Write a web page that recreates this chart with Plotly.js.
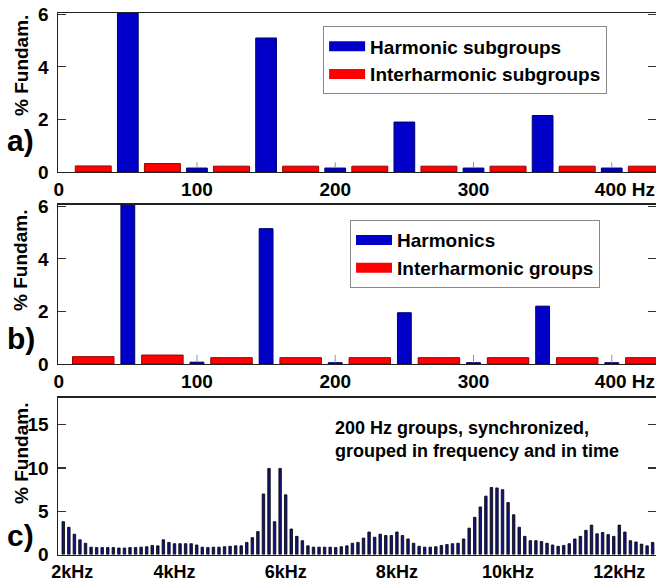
<!DOCTYPE html>
<html>
<head>
<meta charset="utf-8">
<script src="https://cdn.plot.ly/plotly-3.0.1.min.js"></script>
<style>html,body{margin:0;padding:0;background:#fff;}#chart{width:656px;height:581px;}</style>
</head>
<body>
<div id="chart"></div>
<script>
// ---- Panel a) ----
const harmFreq = [50, 100, 150, 200, 250, 300, 350, 400];
const harmSubgroups = [6.5, 0.15, 5.1, 0.15, 1.9, 0.15, 2.15, 0.15];
const harmSubgroupsErr = [0, 0.22, 0, 0.22, 0, 0.22, 0, 0.22];
const interFreq = [25, 75, 125, 175, 225, 275, 325, 375, 425];
const interSubgroups = [0.23, 0.32, 0.22, 0.22, 0.22, 0.22, 0.22, 0.22, 0.22];

// ---- Panel b) ----
const harmonics = [6.5, 0.07, 5.15, 0.05, 1.95, 0.05, 2.2, 0.05];
const harmonicsErr = [0, 0.28, 0, 0.3, 0, 0.3, 0, 0.3];
const interGroups = [0.28, 0.34, 0.24, 0.24, 0.24, 0.24, 0.24, 0.24, 0.24];

// ---- Panel c) 200 Hz groups ----
const cFreq = [2000,2100,2200,2300,2400,2500,2600,2700,2800,2900,
  3000,3100,3200,3300,3400,3500,3600,3700,3800,3900,
  4000,4100,4200,4300,4400,4500,4600,4700,4800,4900,
  5000,5100,5200,5300,5400,5500,5600,5700,5800,5900,
  6000,6100,6200,6300,6400,6500,6600,6700,6800,6900,
  7000,7100,7200,7300,7400,7500,7600,7700,7800,7900,
  8000,8100,8200,8300,8400,8500,8600,8700,8800,8900,
  9000,9100,9200,9300,9400,9500,9600,9700,9800,9900,
  10000,10100,10200,10300,10400,10500,10600,10700,10800,10900,
  11000,11100,11200,11300,11400,11500,11600,11700,11800,11900,
  12000,12100,12200,12300,12400,12500,12600];
const cValues = [3.8,3.15,2.35,1.7,1.3,0.85,0.8,0.8,0.8,0.8,
  0.75,0.75,0.8,0.8,0.85,0.9,1.05,1.0,1.7,1.4,
  1.25,1.25,1.25,1.25,1.1,0.85,0.8,0.85,0.85,0.9,
  0.95,1.0,1.0,1.4,1.95,2.65,7.0,9.95,3.8,9.95,
  6.9,2.95,2.1,1.6,1.0,0.85,0.85,0.85,0.85,0.8,
  0.9,1.0,1.3,1.4,1.9,2.6,2.0,2.35,2.2,2.2,
  2.6,2.2,1.8,1.3,0.95,0.85,0.85,0.9,1.05,1.15,
  1.25,1.3,1.8,3.05,4.3,5.5,6.75,7.75,7.7,7.5,
  6.0,4.6,3.15,2.1,1.6,1.6,1.5,1.3,1.1,0.95,
  1.05,1.25,1.8,2.1,2.8,3.4,2.4,2.55,2.3,2.1,
  3.4,2.6,1.6,1.45,1.2,1.0,1.4];

const hzTicks = [0, 100, 200, 300, 400];
const hzTickText = ['0', '100', '200', '300', '\u00a0\u00a0\u00a0\u00a0\u00a0400 Hz'];
// first label sits slightly right of 2 kHz, as in the original, clear of the axis corner
const kHzTicks = [2160, 4000, 6000, 8000, 10000, 12000];
const kHzTickText = ['2kHz', '4kHz', '6kHz', '8kHz', '10kHz', '12kHz'];

const FONT = 'Liberation Sans, Arial, sans-serif';
const BLUE = '#0000c8', BLUE_EDGE = '#00006e';
const RED = '#ff0000', RED_EDGE = '#9a0000';

function legendSwatch(name, color, xa, ya, leg) {
  return {type:'scatter', mode:'lines', x:[null], y:[null], name: name, xaxis: xa, yaxis: ya,
    legend: leg, line:{color: color, width: 13}, hoverinfo:'skip'};
}

const traces = [
  {type:'bar', x: harmFreq, y: harmSubgroups, width: 15, name: 'Harmonic subgroups', showlegend:false,
   xaxis:'x', yaxis:'y',
   marker:{color: BLUE, line:{color: BLUE_EDGE, width:1}},
   error_y:{type:'data', array: harmSubgroupsErr, arrayminus: [0,0,0,0,0,0,0,0], symmetric:false, color:'#8a9a7a', thickness:1, width:0}},
  {type:'bar', x: interFreq, y: interSubgroups, width: 26, name: 'Interharmonic subgroups', showlegend:false,
   xaxis:'x', yaxis:'y',
   marker:{color: RED, line:{color: RED_EDGE, width:1}}},
  {type:'bar', x: harmFreq, y: harmonics, width: 10, name: 'Harmonics', showlegend:false,
   xaxis:'x2', yaxis:'y2',
   marker:{color: BLUE, line:{color: BLUE_EDGE, width:1}},
   error_y:{type:'data', array: harmonicsErr, arrayminus: [0,0,0,0,0,0,0,0], symmetric:false, color:'#8a95b0', thickness:1, width:0}},
  {type:'bar', x: interFreq, y: interGroups, width: 30, name: 'Interharmonic groups', showlegend:false,
   xaxis:'x2', yaxis:'y2',
   marker:{color: RED, line:{color: RED_EDGE, width:1}}},
  {type:'bar', x: cFreq, y: cValues, width: 45, name: '200 Hz groups', showlegend:false,
   xaxis:'x3', yaxis:'y3',
   marker:{color:'#14147a', line:{color:'#000000', width:0.8}}},
  legendSwatch('Harmonic subgroups', BLUE, 'x', 'y', 'legend'),
  legendSwatch('Interharmonic subgroups', RED, 'x', 'y', 'legend'),
  legendSwatch('Harmonics', BLUE, 'x2', 'y2', 'legend2'),
  legendSwatch('Interharmonic groups', RED, 'x2', 'y2', 'legend2')
];

const tickFont = {family: FONT, size: 19, color: '#000', weight: 'bold'};
function xAx(domainAnchor, range, tv, tt, fsize) {
  return {anchor: domainAnchor, domain:[0,1], range: range, tickvals: tv, ticktext: tt,
    showline:true, mirror:true, linecolor:'#222', linewidth:1.5, ticks:'', showgrid:false,
    zeroline:false, tickfont: Object.assign({}, tickFont, {size: fsize}), ticklabelstandoff: 0,
    ticklabeloverflow:'allow', automargin:false, fixedrange:true};
}
function yAx(domainAnchor, domain, range, tv) {
  return {anchor: domainAnchor, domain: domain, range: range, tickvals: tv,
    showline:true, mirror:'ticks', linecolor:'#222', linewidth:1.5, ticks:'inside', ticklen:8,
    tickcolor:'#333', tickwidth:1.2, showgrid:false, zeroline:false, tickfont: tickFont,
    ticklabelstandoff: 4, automargin:false, fixedrange:true};
}

const legendBase = {xanchor:'left', yanchor:'top', bgcolor:'#fff', bordercolor:'#888', borderwidth:1.2,
  font:{family: FONT, size: 19, color:'#000', weight:'bold'}, itemwidth: 36, tracegroupgap: 0,
  traceorder:'normal'};

const annFont = {family: FONT, size: 19, color:'#000', weight:'bold'};
const layout = {
  width: 656, height: 581,
  margin: {l:58, r:0, t:0, b:0},
  paper_bgcolor:'#fff', plot_bgcolor:'#fff',
  barmode:'overlay',
  showlegend:true,
  xaxis: xAx('y', [-0.5, 432], hzTicks, hzTickText, 19),
  yaxis: yAx('x', [0.704, 0.9776], [0, 6.05], [0, 2, 4, 6]),
  xaxis2: xAx('y2', [-0.5, 432], hzTicks, hzTickText, 19),
  yaxis2: yAx('x2', [0.3735, 0.6472], [0, 6.05], [0, 2, 4, 6]),
  xaxis3: xAx('y3', [1905, 12660], kHzTicks, kHzTickText, 18),
  yaxis3: yAx('x3', [0.0456, 0.3150], [0, 18.1], [0, 5, 10, 15]),
  legend: Object.assign({}, legendBase, {x: 0.443, y: 0.955}),
  legend2: Object.assign({}, legendBase, {x: 0.488, y: 0.6213}),
  annotations: [
    {text:'% Fundam.', xref:'paper', yref:'paper', x:-0.062, y:0.888, textangle:-90, showarrow:false, font: annFont, xanchor:'center', yanchor:'middle'},
    {text:'% Fundam.', xref:'paper', yref:'paper', x:-0.062, y:0.5525, textangle:-90, showarrow:false, font: annFont, xanchor:'center', yanchor:'middle'},
    {text:'% Fundam.', xref:'paper', yref:'paper', x:-0.062, y:0.2203, textangle:-90, showarrow:false, font: annFont, xanchor:'center', yanchor:'middle'},
    {text:'a)', xref:'paper', yref:'paper', x:-0.062, y:0.759, showarrow:false, font:{family: FONT, size: 30, color:'#000', weight:'bold'}, xanchor:'center', yanchor:'middle'},
    {text:'b)', xref:'paper', yref:'paper', x:-0.062, y:0.418, showarrow:false, font:{family: FONT, size: 30, color:'#000', weight:'bold'}, xanchor:'center', yanchor:'middle'},
    {text:'c)', xref:'paper', yref:'paper', x:-0.062, y:0.079, showarrow:false, font:{family: FONT, size: 30, color:'#000', weight:'bold'}, xanchor:'center', yanchor:'middle'},
    {text:'200 Hz groups, synchronized,<br>grouped in frequency and in time', xref:'paper', yref:'paper',
     x:0.46, y:0.284, showarrow:false, align:'left', xanchor:'left', yanchor:'top',
     font:{family: FONT, size: 18, color:'#000', weight:'bold'}}
  ]
};

Plotly.newPlot('chart', traces, layout, {displayModeBar:false, staticPlot:true});
</script>
</body>
</html>
